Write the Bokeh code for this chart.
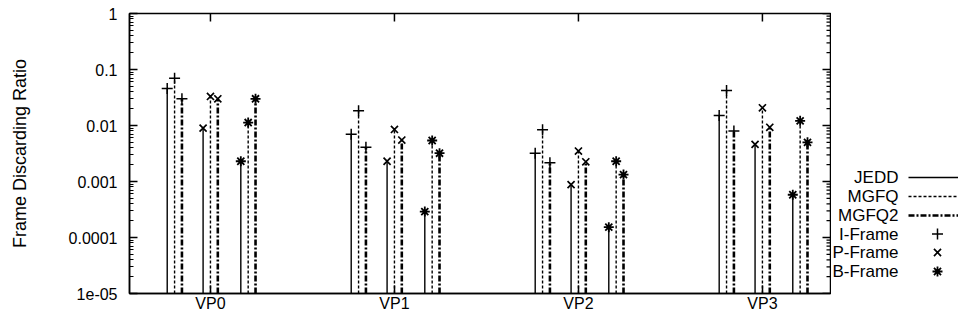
import math
from bokeh.plotting import figure
from bokeh.models import Range1d, FixedTicker, CustomJSTickFormatter
from bokeh.layouts import row
from bokeh.embed import file_html
from bokeh.resources import INLINE
from bokeh.core.properties import value

# ---------------- data ----------------
categories = ["VP0", "VP1", "VP2", "VP3"]
methods = ["JEDD", "MGFQ", "MGFQ2"]
frame_types = ["I-Frame", "P-Frame", "B-Frame"]
y_tick_values = [1e-05, 1e-04, 1e-03, 1e-02, 1e-01, 1.0]
y_tick_labels = ["1e-05", "0.0001", "0.001", "0.01", "0.1", "1"]

jedd_i = [0.046, 0.0070, 0.0032, 0.0151]
mgfq_i = [0.070, 0.0183, 0.0084, 0.042]
mgfq2_i = [0.030, 0.0041, 0.00216, 0.0080]

jedd_p = [0.0090, 0.0023, 0.00088, 0.0046]
mgfq_p = [0.033, 0.0085, 0.0035, 0.0207]
mgfq2_p = [0.030, 0.0055, 0.00225, 0.0093]

jedd_b = [0.0023, 0.00029, 0.000153, 0.00058]
mgfq_b = [0.0113, 0.0054, 0.0023, 0.0121]
mgfq2_b = [0.030, 0.0032, 0.00133, 0.0050]

series = {
    ("I-Frame", "JEDD"): jedd_i, ("I-Frame", "MGFQ"): mgfq_i, ("I-Frame", "MGFQ2"): mgfq2_i,
    ("P-Frame", "JEDD"): jedd_p, ("P-Frame", "MGFQ"): mgfq_p, ("P-Frame", "MGFQ2"): mgfq2_p,
    ("B-Frame", "JEDD"): jedd_b, ("B-Frame", "MGFQ"): mgfq_b, ("B-Frame", "MGFQ2"): mgfq2_b,
}

# ---------------- styles / layout ----------------
FONT = "Liberation Sans"
type_offset = {"I-Frame": -0.195, "P-Frame": 0.0, "B-Frame": 0.205}
method_offset = {"JEDD": -0.04, "MGFQ": 0.0, "MGFQ2": 0.04}
method_style = {
    "JEDD": dict(line_dash="solid", line_width=1.4),
    "MGFQ": dict(line_dash="3 2", line_width=1.4),
    "MGFQ2": dict(line_dash="6 2 2 2", line_width=2.6),
}
marker_style = {
    "I-Frame": dict(marker="cross", size=11, line_width=1.5),
    "P-Frame": dict(marker="x", size=10, line_width=1.7),
    "B-Frame": dict(marker="asterisk", size=10, line_width=1.8),
}

p = figure(width=831, height=321,
           x_range=Range1d(-0.44, 3.37), y_range=Range1d(1e-05, 1.0),
           y_axis_type="log", output_backend="svg", toolbar_location=None,
           min_border_left=129, min_border_right=1, min_border_top=13, min_border_bottom=28)
p.grid.visible = False
p.outline_line_color = "black"
p.outline_line_width = 1.5
p.background_fill_color = "white"
p.border_fill_color = "white"

base = p.y_range.start
for ft in frame_types:
    for m in methods:
        vals = series[(ft, m)]
        xs = [i + type_offset[ft] + method_offset[m] for i in range(len(categories))]
        p.segment(x0=xs, y0=[base] * len(xs), x1=xs, y1=vals,
                  line_color="black", **method_style[m])
        p.scatter(xs, vals, line_color="black", fill_color="black", **marker_style[ft])

# x axis
xticker = FixedTicker(ticks=list(range(len(categories))))
xa = p.xaxis[0]
xa.ticker = xticker
xa.major_label_overrides = {i: c for i, c in enumerate(categories)}
xa.major_tick_in = 8
xa.major_tick_out = 0
xa.minor_tick_line_color = None
xa.axis_line_width = 1.5
xa.major_tick_line_width = 1.5
xa.major_label_text_font = FONT
xa.major_label_text_font_size = "16px"
xa.major_label_text_color = "black"
xa.major_label_standoff = 1

# y axis
minor = [k * d for d in y_tick_values[:-1] for k in range(2, 10)]
yticker = FixedTicker(ticks=y_tick_values, minor_ticks=minor)
yfmt = CustomJSTickFormatter(args=dict(tvals=y_tick_values, tlabels=y_tick_labels), code="""
    for (let i = 0; i < tvals.length; i++) {
        if (Math.abs(Math.log10(tvals[i]) - Math.log10(tick)) < 1e-6) return tlabels[i];
    }
    return '';
""")
ya = p.yaxis[0]
ya.ticker = yticker
ya.formatter = yfmt
ya.major_tick_in = 8
ya.major_tick_out = 0
ya.minor_tick_in = 4
ya.minor_tick_out = 0
ya.axis_line_width = 1.5
ya.major_tick_line_width = 1.5
ya.minor_tick_line_width = 1.2
ya.major_label_text_font = FONT
ya.major_label_text_font_size = "16px"
ya.major_label_text_color = "black"
ya.major_label_standoff = 12
ya.axis_label = "Frame Discarding Ratio"
ya.axis_label_text_font = FONT
ya.axis_label_text_font_size = "18px"
ya.axis_label_text_font_style = "normal"
ya.axis_label_text_color = "black"
ya.axis_label_standoff = 36

# mirrored ticks on top and right: dash markers centred on the frame edge (half clipped -> inward ticks)
xmax = p.x_range.end
ymax = p.y_range.end
p.scatter(list(range(len(categories))), [ymax] * len(categories), marker="dash", angle=math.pi / 2,
          size=16, line_color="black", line_width=1.5)
p.scatter([xmax] * len(y_tick_values), y_tick_values, marker="dash", size=16,
          line_color="black", line_width=1.5)
p.scatter([xmax] * len(minor), minor, marker="dash", size=8, line_color="black", line_width=1.2)

# ---------------- legend (separate panel, gnuplot style) ----------------
# frame of this panel spans the same vertical pixels as the main plot frame (13..293)
leg = figure(width=127, height=321, x_range=Range1d(831, 958), y_range=Range1d(293, 13),
             output_backend="svg", toolbar_location=None,
             min_border_left=0, min_border_right=0, min_border_top=13, min_border_bottom=28,
             x_axis_location=None, y_axis_location=None, outline_line_color=None)
leg.xgrid.grid_line_color = None
leg.ygrid.grid_line_color = None
leg_labels = methods + frame_types
row_y = [177, 196, 215, 233.5, 252, 271]
leg.text(x=[898] * len(leg_labels), y=row_y, text=leg_labels,
         text_align="right", text_baseline="middle", text_font=value(FONT),
         text_font_size="17px", text_color="black")
for j, m in enumerate(methods):
    leg.segment(x0=[908], y0=[row_y[j]], x1=[958], y1=[row_y[j]], line_color="black", **method_style[m])
for j, ft in enumerate(frame_types):
    leg.scatter([937], [row_y[3 + j]], line_color="black", fill_color="black", **marker_style[ft])

layout = row(p, leg)
open("out.html", "w").write(file_html(layout, INLINE))
